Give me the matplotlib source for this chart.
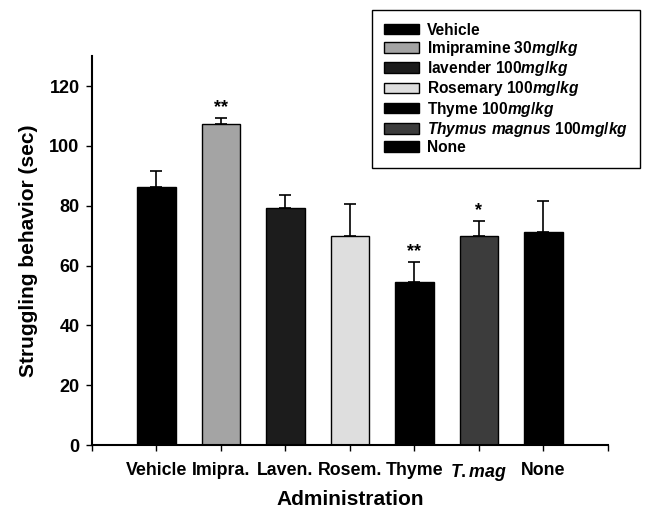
import matplotlib.pyplot as plt
import numpy as np

plt.rcParams['font.family'] = 'Liberation Sans'
plt.rcParams['font.weight'] = 'bold'
plt.rcParams['mathtext.fontset'] = 'custom'
plt.rcParams['mathtext.rm'] = 'Liberation Sans:bold'
plt.rcParams['mathtext.bf'] = 'Liberation Sans:bold'
plt.rcParams['mathtext.it'] = 'Liberation Sans:italic:bold'

# data
groups = ['Vehicle', 'Imipra.', 'Laven.', 'Rosem.', 'Thyme', r'$\it{T.mag}$', 'None']
legend_labels = ['Vehicle', r'Imipramine 30$\it{mg/kg}$', r'lavender 100$\it{mg/kg}$',
                 r'Rosemary 100$\it{mg/kg}$', r'Thyme 100$\it{mg/kg}$',
                 r'$\it{Thymus\ magnus}$ 100$\it{mg/kg}$', 'None']
means = [86.2, 107.2, 79.3, 69.8, 54.6, 69.9, 71.3]
sem = [5.5, 2.3, 4.4, 10.7, 6.5, 5.1, 10.4]
stars = ['', '**', '', '', '**', '*', '']

colors = ['#000000', '#a4a4a4', '#1c1c1c', '#dedede', '#000000', '#3c3c3c', '#000000']

fig = plt.figure(figsize=(6.48, 5.11), dpi=100)
ax = fig.add_axes([0.142, 0.129, 0.796, 0.761])

x = np.arange(len(groups))
bars = ax.bar(x, means, width=0.6, color=colors, edgecolor='black', linewidth=1.0,
              label=legend_labels, zorder=2)
ax.errorbar(x, means, yerr=[np.zeros(len(sem)), sem], fmt='none', ecolor='black',
            elinewidth=1.2, capsize=4.3, capthick=1.2, zorder=1)

for xi, m, s, st in zip(x, means, sem, stars):
    if st:
        ax.text(xi, m + s + 0.6, st, ha='center', va='bottom', fontsize=13, fontweight='bold')

ax.set_xlim(-1, 7)
ax.set_ylim(0, 130)
ax.set_yticks(range(0, 121, 20))
ax.set_xticks(x)
ax.set_xticklabels(groups, fontsize=12.8)
ax.set_xticks([-1, 7], minor=True)
ax.tick_params(axis='y', labelsize=13, direction='out', length=4, width=1, pad=5)
ax.tick_params(axis='x', which='both', direction='out', length=4, width=1, pad=8)

for side in ['top', 'right']:
    ax.spines[side].set_visible(False)
for side in ['left', 'bottom']:
    ax.spines[side].set_linewidth(1.5)

ax.set_ylabel('Struggling behavior (sec)', fontsize=15, fontweight='bold', labelpad=8)
ax.set_xlabel('Administration', fontsize=15, fontweight='bold', labelpad=5)

leg = ax.legend(handles=bars.patches, labels=legend_labels, loc='upper right',
                bbox_to_anchor=(0.988, 0.980), bbox_transform=fig.transFigure,
                borderaxespad=0, fancybox=False, edgecolor='black', framealpha=1,
                prop={'size': 11.2, 'weight': 'bold'}, handlelength=2.25, handleheight=0.65,
                handletextpad=0.5, labelspacing=0.08, borderpad=0.8)
leg.get_frame().set_linewidth(1.0)

fig.savefig('out.png', dpi=100)
